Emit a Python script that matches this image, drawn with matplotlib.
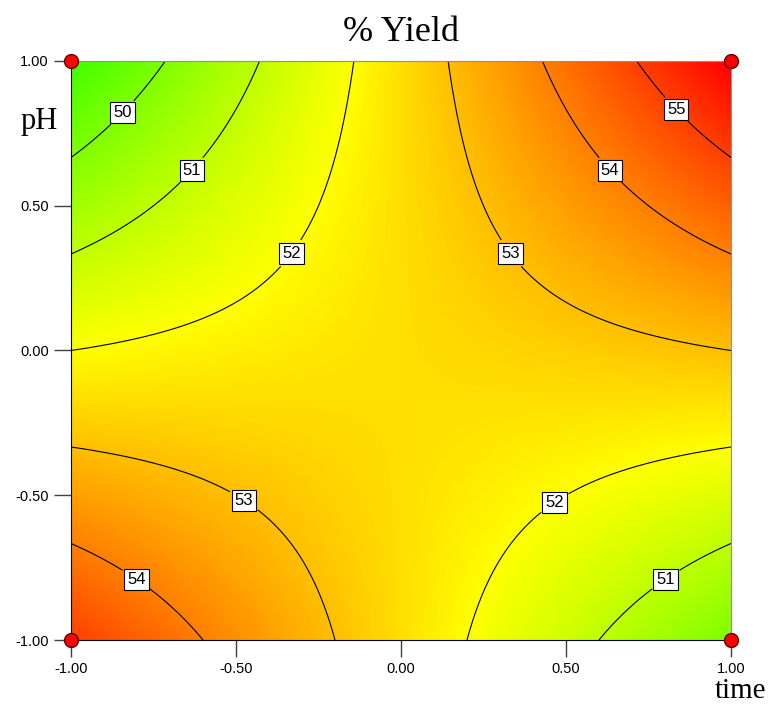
import numpy as np
import matplotlib
matplotlib.use("Agg")
import matplotlib.pyplot as plt
from matplotlib.colors import LinearSegmentedColormap

# factorial design points (coded units) and measured % yield
time_pts = [-1.0, 1.0, -1.0, 1.0]
ph_pts = [-1.0, -1.0, 1.0, 1.0]
yield_pts = [55.0, 50.0, 49.0, 56.0]

levels = [50, 51, 52, 53, 54, 55]
label_pos = [(-0.87, 0.85), (-0.65, 0.64), (-0.35, 0.35), (0.35, 0.35),
             (0.65, 0.64), (0.85, 0.85), (-0.46, -0.49), (0.45, -0.50),
             (-0.79, -0.77), (0.79, -0.77)]
ticks = [-1.0, -0.5, 0.0, 0.5, 1.0]
tick_labels = ["-1.00", "-0.50", "0.00", "0.50", "1.00"]

# fit the two-factor interaction model
A = np.column_stack([np.ones(4), time_pts, ph_pts,
                     np.array(time_pts) * np.array(ph_pts)])
coef = np.linalg.lstsq(A, np.array(yield_pts), rcond=None)[0]

gx = np.linspace(-1, 1, 401)
X, Y = np.meshgrid(gx, gx)
Z = coef[0] + coef[1] * X + coef[2] * Y + coef[3] * X * Y

cmap = LinearSegmentedColormap.from_list(
    "gyr", [(0.0, "#40ff00"), (3 / 7, "#ffff00"), (1.0, "#ff0000")])

fig = plt.figure(figsize=(7.76, 7.04), dpi=100)
ax = fig.add_axes([0.0915, 0.0909, 0.8505, 0.8225])

ax.imshow(Z, extent=[-1, 1, -1, 1], origin="lower", cmap=cmap,
          vmin=min(yield_pts), vmax=max(yield_pts), aspect="auto",
          interpolation="bilinear")
cs = ax.contour(X, Y, Z, levels=levels, colors="black", linewidths=0.8)
lbls = ax.clabel(cs, fmt="%d", fontsize=12, manual=label_pos, inline=True,
                 inline_spacing=6)
for t in lbls:
    t.set_rotation(0)
    t.set_family("Liberation Sans")
    t.set_bbox(dict(boxstyle="square,pad=0.18", fc="white", ec="black", lw=0.8))

ax.plot(time_pts, ph_pts, "o", color="red", mec="#600000", ms=10,
        clip_on=False, zorder=10)

ax.set_xlim(-1, 1)
ax.set_ylim(-1, 1)
ax.set_xticks(ticks)
ax.set_xticklabels(tick_labels)
ax.set_yticks(ticks)
ax.set_yticklabels(tick_labels)
ax.tick_params(direction="out", length=12, width=1, color="#404040",
               labelsize=10.5, pad=4)
for lab in ax.get_xticklabels() + ax.get_yticklabels():
    lab.set_family("Liberation Sans")

for s in ["left", "bottom"]:
    ax.spines[s].set_color("black")
for s in ["top", "right"]:
    ax.spines[s].set_color("#909090")

ax.text(0.5, 1.05, "% Yield", transform=ax.transAxes, family="Liberation Serif",
        fontsize=26, ha="center", va="center")
ax.text(-0.048, 0.895, "pH", transform=ax.transAxes, family="Liberation Serif",
        fontsize=22, ha="center", va="center")
ax.text(1.014, -0.101, "time", transform=ax.transAxes, family="Liberation Serif",
        fontsize=21, ha="center", va="baseline")

fig.savefig("out.png", dpi=100)
